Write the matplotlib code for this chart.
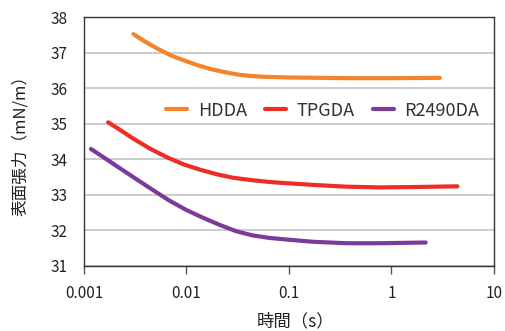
import matplotlib.pyplot as plt
from matplotlib.ticker import FixedLocator, NullLocator

plt.rcParams['font.family'] = ['Noto Sans CJK JP', 'DejaVu Sans']

# data (time in s, surface tension in mN/m)
hdda_t = [0.00303, 0.00394, 0.00531, 0.00718, 0.00967, 0.0130, 0.0176, 0.0238,
          0.0320, 0.0432, 0.0561, 0.1, 0.2, 0.4, 1.0, 2.97]
hdda_y = [37.52, 37.31, 37.10, 36.91, 36.77, 36.64, 36.53, 36.45,
          36.38, 36.34, 36.32, 36.30, 36.29, 36.28, 36.28, 36.29]

tpgda_t = [0.00172, 0.00224, 0.00303, 0.00441, 0.00642, 0.00931, 0.0135, 0.0197,
           0.0286, 0.0417, 0.0605, 0.0815, 0.173, 0.366, 0.77, 1.64, 4.4]
tpgda_y = [35.04, 34.83, 34.58, 34.30, 34.06, 33.86, 33.71, 33.58,
           33.48, 33.42, 33.37, 33.34, 33.28, 33.23, 33.21, 33.22, 33.24]

r2490_t = [0.00117, 0.00164, 0.00221, 0.00321, 0.00468, 0.00680, 0.00989, 0.0144,
           0.0209, 0.0304, 0.0442, 0.0643, 0.09, 0.173, 0.366, 0.77, 2.16]
r2490_y = [34.29, 34.01, 33.76, 33.45, 33.14, 32.84, 32.58, 32.36,
           32.16, 31.98, 31.86, 31.79, 31.75, 31.68, 31.64, 31.64, 31.66]

xticks = [0.001, 0.01, 0.1, 1, 10]
xtick_labels = ['0.001', '0.01', '0.1', '1', '10']
yticks = [31, 32, 33, 34, 35, 36, 37, 38]

fig = plt.figure(figsize=(5.05, 3.31), dpi=100)
ax = fig.add_axes([0.1663, 0.1964, 0.8117, 0.7522])

ax.plot(hdda_t, hdda_y, color='#F5832A', lw=3, solid_capstyle='round', solid_joinstyle='round', label='HDDA')
ax.plot(tpgda_t, tpgda_y, color='#EE2D25', lw=3, solid_capstyle='round', solid_joinstyle='round', label='TPGDA')
ax.plot(r2490_t, r2490_y, color='#7B3C99', lw=3, solid_capstyle='round', solid_joinstyle='round', label='R2490DA')

ax.set_xscale('log')
ax.set_xlim(0.001, 10)
ax.set_ylim(31, 38)
ax.xaxis.set_major_locator(FixedLocator(xticks))
ax.xaxis.set_minor_locator(NullLocator())
ax.set_xticklabels(xtick_labels)
ax.set_yticks(yticks)

ax.grid(axis='y', color='#c4c4c4', lw=1.2)
ax.set_axisbelow(True)
for s in ax.spines.values():
    s.set_color('#333333')
    s.set_linewidth(1.0)

ax.tick_params(axis='x', length=6, width=1, color='#555555', pad=8, labelsize=11, labelcolor='#222222')
ax.tick_params(axis='y', length=0, pad=12, labelsize=11, labelcolor='#222222')

ax.set_xlabel('時間（s）', fontsize=12.5, color='#222222')
ax.xaxis.set_label_coords(0.517, -0.185)
ax.set_ylabel('表面張力（mN/m）', fontsize=12, color='#222222', labelpad=15)

ax.legend(loc='center', bbox_to_anchor=(0.583, 0.624), ncol=3, frameon=False,
          fontsize=13, handlelength=1.15, handletextpad=0.6, columnspacing=1.0,
          labelcolor='#333333')

fig.savefig('out.png', dpi=100)
